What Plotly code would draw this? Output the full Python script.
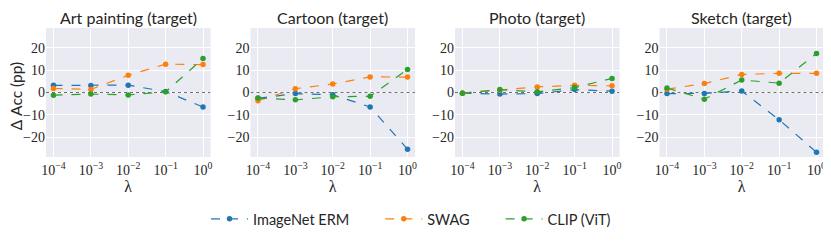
import plotly.graph_objects as go

lambdas = [1e-4, 1e-3, 1e-2, 1e-1, 1e0]
titles = ["Art painting (target)", "Cartoon (target)", "Photo (target)", "Sketch (target)"]
series_names = ["ImageNet ERM", "SWAG", "CLIP (ViT)"]
colors = ["#1f77b4", "#ff7f0e", "#2ca02c"]

imagenet_erm = [
    [3.2, 3.1, 3.3, 0.4, -6.5],
    [-2.6, -0.5, -1.0, -6.5, -25.4],
    [-0.3, -0.7, -0.5, 1.3, 0.6],
    [-0.5, -0.4, 0.7, -12.2, -26.8],
]
swag = [
    [1.8, 1.4, 7.7, 12.7, 12.5],
    [-3.7, 1.7, 3.8, 7.0, 6.9],
    [-0.3, 1.0, 2.5, 3.2, 3.0],
    [1.5, 4.0, 8.1, 8.6, 8.6],
]
clip_vit = [
    [-1.2, -0.7, -1.1, 0.3, 15.2],
    [-2.5, -3.3, -1.9, -1.7, 10.3],
    [-0.3, 1.3, 0.3, 2.2, 6.3],
    [2.0, -3.0, 5.6, 4.2, 17.5],
]
all_series = [imagenet_erm, swag, clip_vit]

xtick_vals = lambdas
xtick_text = ["10<sup>−4</sup>", "10<sup>−3</sup>", "10<sup>−2</sup>", "10<sup>−1</sup>", "10<sup>0</sup>"]
ytick_vals = [-20, -10, 0, 10, 20]
ytick_text = ["−20", "−10", "0", "10", "20"]

# page has an 8px body margin, so the figure is drawn 8px in from the top-left
W, H = 823, 234
ml, mr, mt, mb = 38, 7, 20, 75
pw = W - ml - mr
ph = H - mt - mb
panel_w = 164.5
gap = (pw - 4 * panel_w) / 3

fig = go.Figure()
text_color = "#262626"
serif = "Liberation Serif"
sans = "Lato"
pad = "\u00a0" * 7

for p in range(4):
    x0 = p * (panel_w + gap) / pw
    x1 = (p * (panel_w + gap) + panel_w) / pw
    ax = "" if p == 0 else str(p + 1)
    fig.update_layout({
        f"xaxis{ax}": dict(
            domain=[x0, x1], type="log", range=[-4.2, 0.2],
            tickvals=xtick_vals, ticktext=xtick_text,
            showgrid=True, gridcolor="white", gridwidth=1,
            zeroline=False, showline=False, ticks="", automargin=False,
            ticklabelstandoff=3,
            tickfont=dict(family=serif, size=14, color=text_color),
            title=dict(text="λ", font=dict(family=serif, size=16, color=text_color), standoff=1),
            anchor=f"y{ax}",
        ),
        f"yaxis{ax}": dict(
            domain=[0, 1], range=[-28.9, 28.9],
            tickvals=ytick_vals, ticktext=ytick_text,
            showgrid=True, gridcolor="white", gridwidth=1,
            zeroline=False, showline=False, ticks="", automargin=False,
            tickfont=dict(family=serif, size=14, color=text_color),
            anchor=f"x{ax}",
        ),
    })
    # dotted zero line
    fig.add_trace(go.Scatter(
        x=[10 ** -4.2, 10 ** 0.2], y=[0, 0], mode="lines",
        line=dict(color="#707070", width=1, dash="dot"),
        showlegend=False, hoverinfo="skip",
        xaxis=f"x{ax}", yaxis=f"y{ax}",
    ))
    for s, (name, data) in enumerate(zip(series_names, all_series)):
        fig.add_trace(go.Scatter(
            x=lambdas, y=data[p], mode="lines+markers",
            name=name + (pad if s < 2 else ""),
            line=dict(color=colors[s], width=1.2, dash="dash"),
            marker=dict(color=colors[s], size=5.5),
            showlegend=(p == 0),
            xaxis=f"x{ax}", yaxis=f"y{ax}",
        ))
    fig.add_annotation(
        text=titles[p], x=(x0 + x1) / 2, y=1, xref="paper", yref="paper",
        yanchor="bottom", xanchor="center", showarrow=False, yshift=-1,
        font=dict(family=sans, size=16, color=text_color),
    )

# y-axis label
fig.add_annotation(
    text="Δ Acc (pp)", x=(8 - ml) / pw, y=0.47, xref="paper", yref="paper",
    xanchor="center", yanchor="middle", textangle=-90, showarrow=False,
    font=dict(family=sans, size=15.5, color=text_color),
)

fig.update_layout(
    width=W, height=H,
    margin=dict(l=ml, r=mr, t=mt, b=mb),
    paper_bgcolor="white", plot_bgcolor="#EAEAF2",
    legend=dict(
        orientation="h", x=(206 - 8 - ml) / pw, xanchor="left",
        y=-0.48, yanchor="middle",
        font=dict(family=sans, size=14.5, color=text_color),
        itemwidth=37,
    ),
)

fig.write_html("out.html")
